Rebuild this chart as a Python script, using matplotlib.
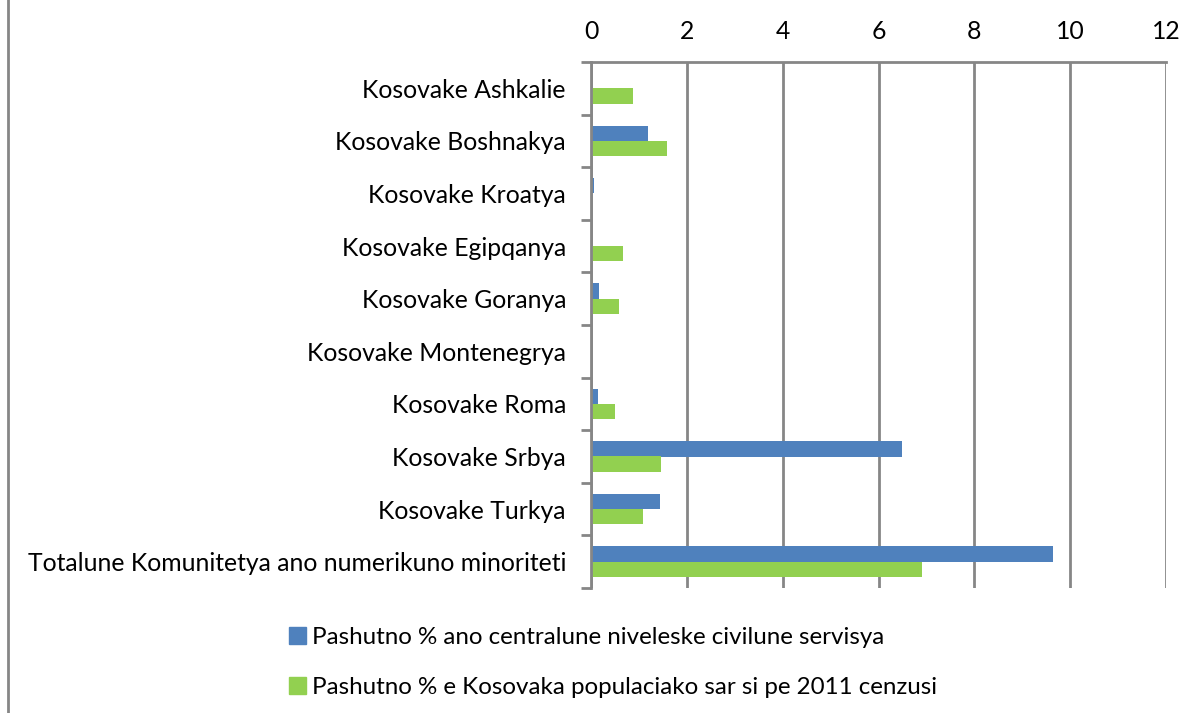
import matplotlib
matplotlib.use("Agg")
import matplotlib.pyplot as plt
from matplotlib.lines import Line2D
from matplotlib.patches import Patch
import numpy as np

categories = [
    "Kosovake Ashkalie",
    "Kosovake Boshnakya",
    "Kosovake Kroatya",
    "Kosovake Egipqanya",
    "Kosovake Goranya",
    "Kosovake Montenegrya",
    "Kosovake Roma",
    "Kosovake Srbya",
    "Kosovake Turkya",
    "Totalune Komunitetya ano numerikuno minoriteti",
]
civil_service = [0.03, 1.19, 0.06, 0.03, 0.17, 0.03, 0.14, 6.49, 1.45, 9.64]
census_2011 = [0.88, 1.59, 0.0, 0.66, 0.59, 0.0, 0.51, 1.46, 1.08, 6.91]
series_names = [
    "Pashutno % ano centralune niveleske civilune servisya",
    "Pashutno % e Kosovaka populaciako sar si pe 2011 cenzusi",
]
xticks = [0, 2, 4, 6, 8, 10, 12]

plt.rcParams['font.family'] = ['Lato', 'DejaVu Sans']
FS = 17.8

fig = plt.figure(figsize=(11.98, 7.13), dpi=100)
ax = fig.add_axes([591/1198, 1-588/713, (1166-591)/1198, (588-62)/713])

blue = "#4F81BD"
green = "#92D050"
grid = "#868686"

n = len(categories)
y = np.arange(n)
h = 0.29
ax.barh(y - h/2, civil_service, height=h, color=blue, label=series_names[0])
ax.barh(y + h/2, census_2011, height=h, color=green, label=series_names[1])

ax.set_ylim(n - 0.5, -0.5)
ax.set_xlim(0, 12)
ax.set_xticks(xticks)
ax.set_xticklabels([str(t) for t in xticks], fontsize=FS)
ax.xaxis.tick_top()
ax.tick_params(axis='x', length=0, pad=14)
ax.set_yticks(y)
ax.set_yticklabels(categories, fontsize=FS)
ax.tick_params(axis='y', length=0, pad=18)
ax.set_yticks(np.arange(n + 1) - 0.5, minor=True)
ax.tick_params(axis='y', which='minor', length=7, width=2, color=grid, direction='out')
ax.grid(axis='x', color=grid, linewidth=2)
ax.set_axisbelow(True)
for s in ['right', 'bottom']:
    ax.spines[s].set_visible(False)
for s in ['top', 'left']:
    ax.spines[s].set_color(grid)
    ax.spines[s].set_linewidth(2)

handles = [Patch(color=blue), Patch(color=green)]
fig.legend(handles, series_names, loc='upper left', bbox_to_anchor=(277/1198, 1-615/713),
           frameon=False, fontsize=17.4, handlelength=0.7, handleheight=0.7,
           handletextpad=0.25, labelspacing=1.2, borderpad=0)

fig.add_artist(Line2D([8/1198, 8/1198], [0, 1], color=grid, linewidth=2, transform=fig.transFigure))

fig.savefig("out.png", dpi=100)
